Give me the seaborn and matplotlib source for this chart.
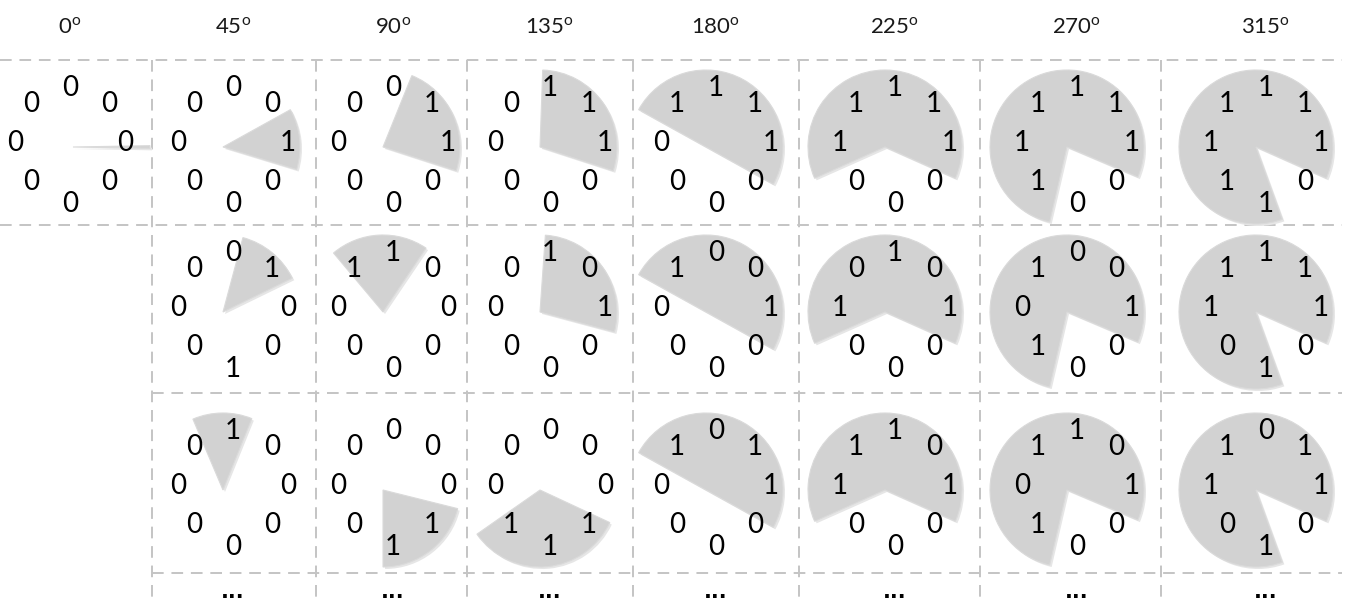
import numpy as np
import matplotlib
matplotlib.use("Agg")
import matplotlib.pyplot as plt
from matplotlib.patches import Wedge
import seaborn as sns

sns.set_theme(style="white")
plt.rcParams['font.family'] = ['Lato', 'DejaVu Sans']
plt.rcParams['mathtext.fontset'] = 'custom'
plt.rcParams['mathtext.rm'] = 'Lato'

# column headers (rotation angle)
headers = ["0", "45", "90", "135", "180", "225", "270", "315"]

# bit positions go counter-clockwise from the right: 0,45,...,315 deg
row1_bits = ["00000000", "10000000", "11000000", "11100000",
             "11110000", "11111000", "11111100", "11111110"]
row2_bits = [None, "01000010", "00110000", "10100000",
             "10010000", "10101000", "10010100", "11111010"]
row3_bits = [None, "00100000", "00000011", "00000111",
             "11010000", "10111000", "10110100", "11011010"]

# wedge start angle and sweep (deg) for each cell
row1_start = [-1, -17, -18, -18, -29, -24, -23, -24]
row1_sweep = [2, 46, 86, 106, 180, 228, 280, 314]
row2_start = [None, 26, 56, -15, -29, -24, -23, -24]
row2_sweep = [None, 49, 74, 101, 180, 228, 280, 314]
row3_start = [None, 68, -90, 215, -29, -24, -23, -24]
row3_sweep = [None, 45, 76, 120, 180, 228, 280, 314]

W, H = 1358, 606
col_cx = [70, 233, 393, 550, 716, 895, 1077, 1266]
row_cy = [143, 308, 486]
grid_x = [152, 316, 467, 633, 799, 980, 1161]
grid_y = [60, 225, 393, 573]
ring_r = 55
wedge_r = 77

fig = plt.figure(figsize=(W / 100, H / 100), dpi=100)
ax = fig.add_axes([0, 0, 1, 1])
ax.set_xlim(0, W)
ax.set_ylim(0, H)
ax.axis("off")

def yy(y):
    return H - y

grid_kw = dict(color="#c4c4c4", lw=1.4, ls=(0, (6, 4)), zorder=1)
for i, gy in enumerate(grid_y):
    x0 = 0 if i < 2 else 152
    ax.plot([x0, 1342], [yy(gy), yy(gy)], **grid_kw)
for gx in grid_x:
    ax.plot([gx, gx], [yy(60), yy(602)], **grid_kw)

for cx, h in zip(col_cx, headers):
    ax.text(cx, yy(27), h + r"$^{\mathrm{o}}$", ha="center", va="center",
            fontsize=16, color="#1a1a1a")

rows = [(row1_bits, row1_start, row1_sweep),
        (row2_bits, row2_start, row2_sweep),
        (row3_bits, row3_start, row3_sweep)]

angles = np.arange(8) * 45
for r, (bits_row, starts, sweeps) in enumerate(rows):
    cy = yy(row_cy[r])
    for c in range(8):
        bits = bits_row[c]
        if bits is None:
            continue
        cx = col_cx[c]
        wx = cx - 10 if c > 0 else cx + 3
        wy = cy - 4
        t1 = starts[c]
        t2 = starts[c] + sweeps[c]
        # soft shadow then wedge
        ax.add_patch(Wedge((wx + 2, wy - 2), wedge_r, t1, t2,
                           facecolor="#e6e6e6", edgecolor="none", zorder=2))
        ax.add_patch(Wedge((wx, wy), wedge_r, t1, t2,
                           facecolor="#d2d2d2", edgecolor="#dadada",
                           lw=0.8, zorder=3))
        for a, b in zip(angles, bits):
            rr = ring_r + (6 if a == 270 else 0)
            px = cx + rr * np.cos(np.radians(a))
            py = cy + rr * np.sin(np.radians(a))
            ax.text(px, py, b, ha="center", va="center", fontsize=20,
                    color="black", zorder=4)

for cx in col_cx[1:]:
    ax.text(cx, yy(598), "...", ha="center", va="baseline", fontsize=15,
            fontweight="bold", family="DejaVu Sans", color="black")

fig.savefig("out.png", dpi=100)
